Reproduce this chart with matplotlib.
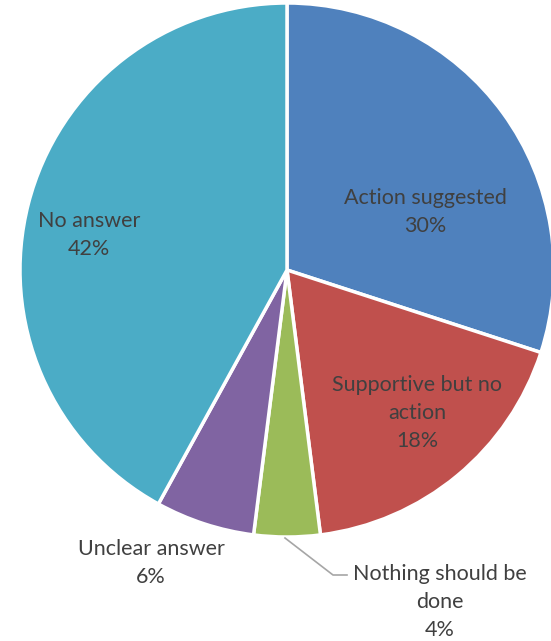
import matplotlib
matplotlib.use("Agg")
import matplotlib.pyplot as plt

# data
categories = ["Action suggested", "Supportive but no action", "Nothing should be done",
              "Unclear answer", "No answer"]
shares = [30, 18, 4, 6, 42]
colors = ["#4F81BD", "#C0504D", "#9BBB59", "#8064A2", "#4BACC6"]

W, H = 551, 641
fig = plt.figure(figsize=(W / 100, H / 100), dpi=100)
ax = fig.add_axes([0, 0, 1, 1])

cx, cy, r = 287, H - 270, 267
ax.pie(shares, colors=colors, startangle=90, counterclock=False,
       center=(cx, cy), radius=r, frame=True,
       wedgeprops=dict(edgecolor="white", linewidth=2.5))
ax.set_xlim(0, W)
ax.set_ylim(0, H)
ax.set_aspect("equal")
ax.axis("off")

txt = dict(color="#404040", fontsize=15.5, family=["Lato", "DejaVu Sans"],
           ha="center", va="center", linespacing=1.5)
ax.text(425, H - 212, "Action suggested\n30%", **txt)
ax.text(417, H - 413, "Supportive but no\naction\n18%", **txt)
ax.text(89, H - 235, "No answer\n42%", **txt)
ax.text(151, H - 563, "Unclear answer\n6%", **txt)
ax.text(440, H - 602, "Nothing should be\ndone\n4%", **txt)

# leader line for the small slice
ax.plot([285, 333, 347], [H - 538, H - 575, H - 575], color="#A6A6A6", lw=1.2)

fig.savefig("out.png", dpi=100)
